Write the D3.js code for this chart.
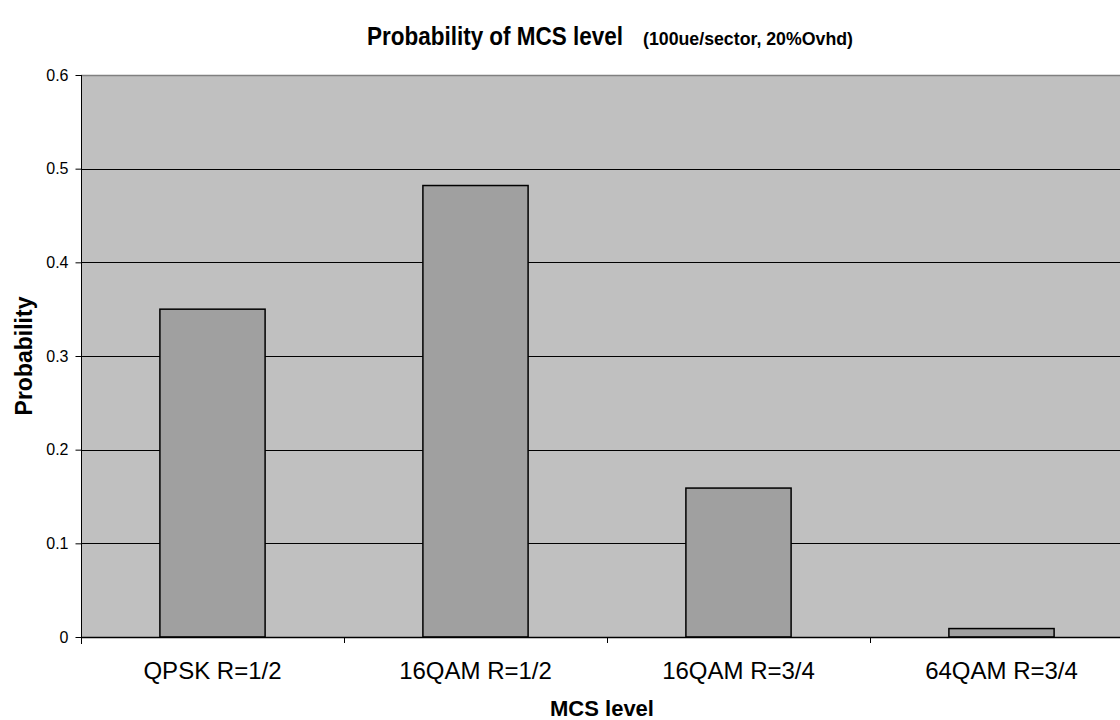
<!DOCTYPE html>
<html>
<head>
<meta charset="utf-8">
<script src="https://cdn.jsdelivr.net/npm/d3@7"></script>
<style>
  html, body { margin: 0; padding: 0; background: #fff; }
  svg { display: block; }
  text { font-family: "Liberation Sans", Arial, sans-serif; fill: #000; }
</style>
</head>
<body>
<svg id="chart" width="1120" height="720"></svg>
<script>
// MCS level distribution
const categories = ["QPSK R=1/2", "16QAM R=1/2", "16QAM R=3/4", "64QAM R=3/4"];
const probabilities = [0.35, 0.482, 0.159, 0.009];
const yTicks = [0, 0.1, 0.2, 0.3, 0.4, 0.5, 0.6];

const svg = d3.select("#chart");
const plot = { left: 81, top: 75, right: 1133, bottom: 637 };

const x = d3.scaleBand()
  .domain(categories)
  .range([plot.left, plot.right])
  .paddingInner(0.6)
  .paddingOuter(0.3);

const y = d3.scaleLinear()
  .domain([0, 0.6])
  .range([plot.bottom, plot.top]);

// plot background
svg.append("rect")
  .attr("x", plot.left).attr("y", plot.top)
  .attr("width", plot.right - plot.left)
  .attr("height", plot.bottom - plot.top)
  .attr("fill", "#c0c0c0");

// horizontal gridlines
svg.append("g")
  .selectAll("line")
  .data(yTicks.filter(d => d > 0))
  .join("line")
  .attr("x1", plot.left).attr("x2", plot.right)
  .attr("y1", d => Math.round(y(d)) + 0.5)
  .attr("y2", d => Math.round(y(d)) + 0.5)
  .attr("stroke", d => d === 0.6 ? "#808080" : "#000")
  .attr("stroke-width", d => d === 0.6 ? 1.5 : 1);

// bars
svg.append("g")
  .selectAll("rect")
  .data(probabilities)
  .join("rect")
  .attr("x", (d, i) => x(categories[i]))
  .attr("y", d => y(d))
  .attr("width", x.bandwidth())
  .attr("height", d => y(0) - y(d))
  .attr("fill", "#a0a0a0")
  .attr("stroke", "#000")
  .attr("stroke-width", 1.5);

// y axis
const yAxis = d3.axisLeft(y)
  .tickValues(yTicks)
  .tickFormat(d => d === 0 ? "0" : d3.format(".1f")(d))
  .tickSize(6)
  .tickPadding(7);
const gy = svg.append("g")
  .attr("transform", `translate(${plot.left + 0.5},0)`)
  .call(yAxis);
gy.select(".domain").attr("stroke", "#000").attr("d", `M0,${plot.top}V${plot.bottom + 7}`);
gy.selectAll(".tick line").attr("stroke", "#000");
gy.selectAll(".tick text")
  .style("font-family", "'Liberation Sans', Arial, sans-serif")
  .style("font-size", "16px")
  .attr("fill", "#000");

// x axis (ticks at category boundaries)
const boundaries = categories.map(c => x(c) - x.step() * x.paddingInner() / 2).slice(1);
const gx = svg.append("g");
gx.append("line")
  .attr("x1", plot.left).attr("x2", plot.right)
  .attr("y1", plot.bottom + 0.5).attr("y2", plot.bottom + 0.5)
  .attr("stroke", "#000").attr("stroke-width", 1.5);
gx.selectAll("line.tk")
  .data(boundaries)
  .join("line")
  .attr("class", "tk")
  .attr("x1", d => Math.round(d) + 0.5).attr("x2", d => Math.round(d) + 0.5)
  .attr("y1", plot.bottom).attr("y2", plot.bottom + 6)
  .attr("stroke", "#000");
gx.selectAll("text")
  .data(categories)
  .join("text")
  .attr("x", d => x(d) + x.bandwidth() / 2)
  .attr("y", 679)
  .attr("text-anchor", "middle")
  .style("font-size", "24px")
  .text(d => d);

// axis titles
svg.append("text")
  .attr("x", 602).attr("y", 716)
  .attr("text-anchor", "middle")
  .style("font-size", "22px")
  .style("font-weight", "bold")
  .text("MCS level");

svg.append("text")
  .attr("transform", "translate(32,356) rotate(-90)")
  .attr("text-anchor", "middle")
  .style("font-size", "23px")
  .style("font-weight", "bold")
  .text("Probability");

// chart title
const title = svg.append("text")
  .attr("x", 367).attr("y", 45)
  .style("font-weight", "bold");
title.append("tspan")
  .style("font-size", "25px")
  .attr("textLength", 256)
  .attr("lengthAdjust", "spacingAndGlyphs")
  .text("Probability of MCS level");
title.append("tspan")
  .attr("x", 643)
  .style("font-size", "18px")
  .attr("textLength", 210)
  .attr("lengthAdjust", "spacingAndGlyphs")
  .text("(100ue/sector, 20%Ovhd)");
</script>
</body>
</html>
